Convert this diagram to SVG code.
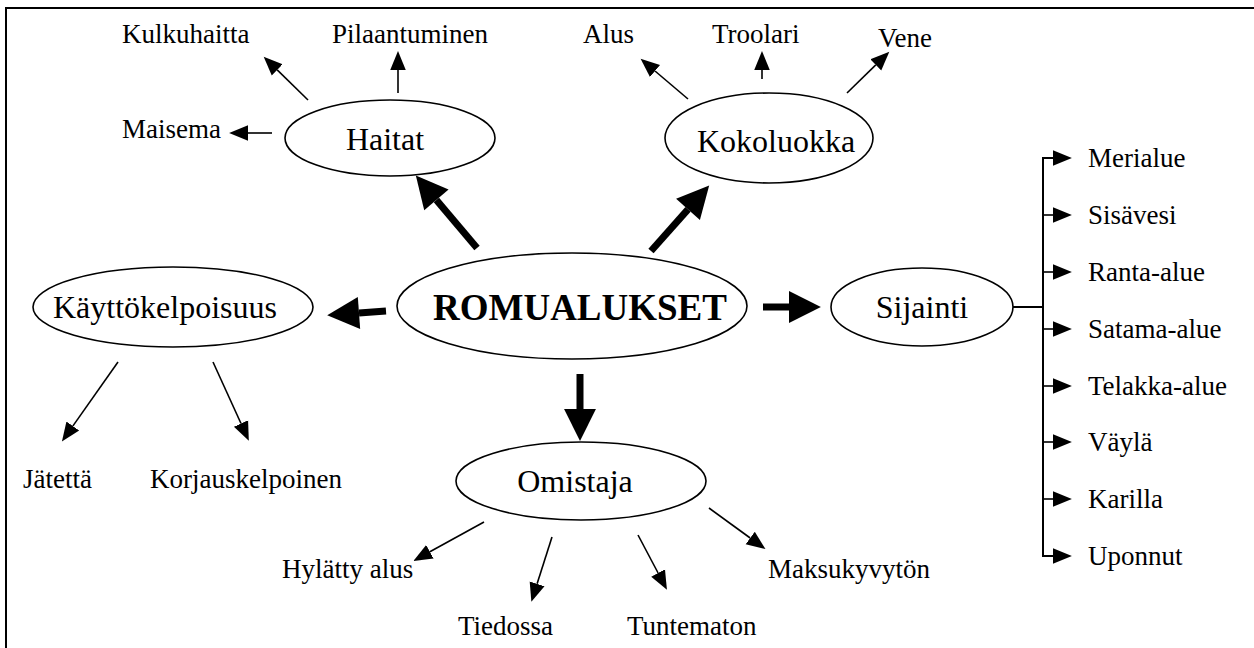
<svg xmlns="http://www.w3.org/2000/svg" width="1254" height="648" viewBox="0 0 1254 648">
<style>
text{font-family:"Liberation Serif","Times New Roman",serif;fill:#000}
.lbl{font-size:27px}
.big{font-size:32px;text-anchor:middle}
.main{font-size:37px;font-weight:bold;text-anchor:middle}
.el{fill:#fff;stroke:#000;stroke-width:1.6}
.thin{stroke:#000;stroke-width:1.6;fill:none;marker-end:url(#ah)}
.thick{stroke:#000;stroke-width:7;fill:none;marker-end:url(#ahb)}
.br{stroke:#000;stroke-width:2;fill:none}
</style>
<defs>
<marker id="ah" markerUnits="userSpaceOnUse" markerWidth="20" markerHeight="20" viewBox="0 -8 18 16" refX="0" refY="0" orient="auto"><path d="M0,-7 L17,0 L0,7 z" fill="#000"/></marker>
<marker id="ahb" markerUnits="userSpaceOnUse" markerWidth="34" markerHeight="34" viewBox="0 -16 31 32" refX="0" refY="0" orient="auto"><path d="M0,-15 L30,0 L0,15 z" fill="#000"/></marker>
</defs>
<rect width="1254" height="648" fill="#fff"/>
<path d="M6,660 V8 H1260" fill="none" stroke="#000" stroke-width="2"/>

<g id="connectors">
<line class="thin" x1="308" y1="100" x2="277.2" y2="69.9"/>
<line class="thin" x1="398" y1="93" x2="398" y2="70"/>
<line class="thin" x1="272" y1="133" x2="248" y2="133"/>
<line class="thin" x1="688" y1="99" x2="655" y2="71"/>
<line class="thin" x1="762" y1="79" x2="762" y2="70"/>
<line class="thin" x1="847" y1="93" x2="875.8" y2="64.9"/>
<line class="thin" x1="118" y1="362" x2="72.8" y2="426.1"/>
<line class="thin" x1="213" y1="362" x2="241" y2="423.5"/>
<line class="thin" x1="484" y1="522" x2="429.9" y2="551.8"/>
<line class="thin" x1="552" y1="537" x2="537.1" y2="583.8"/>
<line class="thin" x1="638" y1="535" x2="658.1" y2="573"/>
<line class="thin" x1="709" y1="508" x2="750.2" y2="538"/>
<line class="thick" x1="477" y1="248" x2="436.4" y2="199.9"/>
<line class="thick" x1="651" y1="251" x2="688" y2="209.4"/>
<line class="thick" x1="386" y1="311" x2="359" y2="313"/>
<line class="thick" x1="763" y1="307" x2="789" y2="307"/>
<line class="thick" x1="580" y1="374" x2="580" y2="409"/>
<path class="br" d="M1013,307 H1043" stroke-width="2.5"/>
<path class="br" d="M1053,158 H1043 V556 H1053"/>
<line class="thin" x1="1043" y1="158" x2="1053" y2="158" stroke-width="2"/>
<line class="thin" x1="1043" y1="215" x2="1053" y2="215" stroke-width="2"/>
<line class="thin" x1="1043" y1="272" x2="1053" y2="272" stroke-width="2"/>
<line class="thin" x1="1043" y1="329" x2="1053" y2="329" stroke-width="2"/>
<line class="thin" x1="1043" y1="386" x2="1053" y2="386" stroke-width="2"/>
<line class="thin" x1="1043" y1="442" x2="1053" y2="442" stroke-width="2"/>
<line class="thin" x1="1043" y1="499" x2="1053" y2="499" stroke-width="2"/>
<line class="thin" x1="1043" y1="556" x2="1053" y2="556" stroke-width="2"/>
</g>

<g id="romualukset"><ellipse class="el" cx="572" cy="306" rx="175" ry="53" stroke-width="2.2"/><text class="main" x="580" y="320">ROMUALUKSET</text></g>
<g id="haitat"><ellipse class="el" cx="390" cy="138" rx="105" ry="38"/><text class="big" x="385" y="150">Haitat</text></g>
<g id="kokoluokka"><ellipse class="el" cx="769" cy="138" rx="104" ry="45"/><text class="big" x="776" y="152">Kokoluokka</text></g>
<g id="kayttokelpoisuus"><ellipse class="el" cx="173" cy="307" rx="140" ry="40"/><text class="big" x="165" y="318">Käyttökelpoisuus</text></g>
<g id="sijainti"><ellipse class="el" cx="922" cy="307" rx="91" ry="39"/><text class="big" x="922" y="318">Sijainti</text></g>
<g id="omistaja"><ellipse class="el" cx="581" cy="481" rx="125" ry="39"/><text class="big" x="575" y="492">Omistaja</text></g>

<g id="kulkuhaitta"><text class="lbl" x="122" y="43">Kulkuhaitta</text></g>
<g id="pilaantuminen"><text class="lbl" x="332" y="43">Pilaantuminen</text></g>
<g id="maisema"><text class="lbl" x="122" y="138">Maisema</text></g>
<g id="alus"><text class="lbl" x="583" y="43">Alus</text></g>
<g id="troolari"><text class="lbl" x="712" y="43">Troolari</text></g>
<g id="vene"><text class="lbl" x="878" y="47">Vene</text></g>
<g id="jatetta"><text class="lbl" x="23" y="488">Jätettä</text></g>
<g id="korjauskelpoinen"><text class="lbl" x="150" y="488">Korjauskelpoinen</text></g>
<g id="hylatty"><text class="lbl" x="282" y="578">Hylätty alus</text></g>
<g id="tiedossa"><text class="lbl" x="458" y="635">Tiedossa</text></g>
<g id="tuntematon"><text class="lbl" x="627" y="635">Tuntematon</text></g>
<g id="maksukyvyton"><text class="lbl" x="768" y="578">Maksukyvytön</text></g>
<g id="merialue"><text class="lbl" x="1088" y="167">Merialue</text></g>
<g id="sisavesi"><text class="lbl" x="1088" y="224">Sisävesi</text></g>
<g id="ranta"><text class="lbl" x="1088" y="281">Ranta-alue</text></g>
<g id="satama"><text class="lbl" x="1088" y="338">Satama-alue</text></g>
<g id="telakka"><text class="lbl" x="1088" y="395">Telakka-alue</text></g>
<g id="vayla"><text class="lbl" x="1088" y="451">Väylä</text></g>
<g id="karilla"><text class="lbl" x="1088" y="508">Karilla</text></g>
<g id="uponnut"><text class="lbl" x="1088" y="565">Uponnut</text></g>
</svg>
